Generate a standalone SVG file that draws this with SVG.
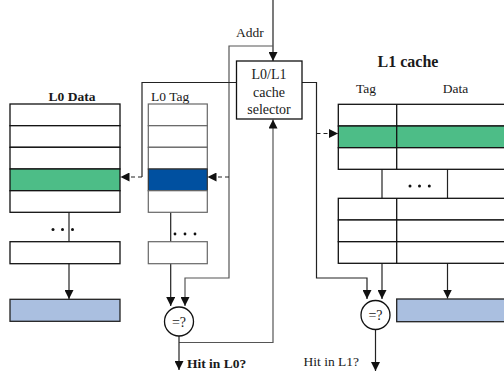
<svg xmlns="http://www.w3.org/2000/svg" width="504" height="375" viewBox="0 0 504 375" font-family="'Liberation Serif', 'DejaVu Serif', serif">
<defs>
<style>
text{font-family:'Liberation Serif','DejaVu Serif',serif;fill:#1a1a1a}
.b{font-weight:bold}
.box{fill:#fff;stroke:#111;stroke-width:1.3}
.gbox{fill:#fff;stroke:#666;stroke-width:1.2}
.ln{fill:none;stroke:#222;stroke-width:1.2}
.gl{fill:none;stroke:#555;stroke-width:1.2}
.ds{fill:none;stroke:#222;stroke-width:1.2;stroke-dasharray:4 3}
.green{fill:#4dbd87;stroke:#111;stroke-width:1.3}
.blue{fill:#0050a0;stroke:#333;stroke-width:1.2}
.lb{fill:#aabfe0;stroke:#222;stroke-width:1.3}
.dot{fill:#111}
</style>
<marker id="ah" viewBox="0 0 10 10" refX="10" refY="5" markerWidth="9" markerHeight="9" markerUnits="userSpaceOnUse" orient="auto">
<path d="M0,0 L10,5 L0,10 Z" fill="#111"/>
</marker>
</defs>

<g id="connectors">
<path class="ln" d="M273,0 V61" marker-end="url(#ah)"/>
<path class="gl" d="M273,46 H229 V278 H185 V306" marker-end="url(#ah)"/>
<path class="ds" d="M229,177 H207.5" marker-end="url(#ah)"/>
<path class="ln" d="M236.5,82.5 H142 V177"/>
<path class="ds" d="M142,177 H120.5" marker-end="url(#ah)"/>
<path class="ln" d="M302,82.5 H316.5 V278 H367 V299" marker-end="url(#ah)"/>
<path class="ds" d="M316.5,133.5 H338" marker-end="url(#ah)"/>
<path class="gl" d="M179,342.5 H273 V119.5" marker-end="url(#ah)"/>
<path class="ln" d="M69,191 V299" marker-end="url(#ah)"/>
<path class="ln" d="M170.7,191 V306" marker-end="url(#ah)"/>
<path class="ln" d="M179,336 V370" marker-end="url(#ah)"/>
<path class="ln" d="M382,148 V299" marker-end="url(#ah)"/>
<path class="ln" d="M447.5,148 V298.5" marker-end="url(#ah)"/>
<path class="ln" d="M375.5,329.5 V371" marker-end="url(#ah)"/>
</g>

<g id="addr-label">
<text x="236" y="37" font-size="13.5">Addr</text>
</g>

<g id="selector">
<rect class="box" x="236.5" y="61" width="65.5" height="58"/>
<text x="269" y="79" font-size="14" text-anchor="middle">L0/L1</text>
<text x="269" y="97" font-size="14" text-anchor="middle">cache</text>
<text x="269" y="114" font-size="14" text-anchor="middle">selector</text>
</g>

<g id="l0-data">
<text class="b" x="72" y="101" font-size="13.5" text-anchor="middle">L0 Data</text>
<rect class="box" x="10" y="104" width="110" height="21.7"/>
<rect class="box" x="10" y="125.7" width="110" height="21.6"/>
<rect class="box" x="10" y="147.3" width="110" height="21.7"/>
<rect class="green" x="10" y="169" width="110" height="21.7"/>
<rect class="box" x="10" y="190.7" width="110" height="21.6"/>
<circle class="dot" cx="53" cy="229.5" r="1.5"/>
<circle class="dot" cx="62.5" cy="229.5" r="1.5"/>
<circle class="dot" cx="72.5" cy="229.5" r="1.5"/>
<rect class="box" x="10" y="241.7" width="110" height="22"/>
</g>

<g id="l0-out">
<rect class="lb" x="10" y="299.3" width="110" height="22"/>
</g>

<g id="l0-tag">
<text x="151" y="101" font-size="13.5" fill="#333">L0  Tag</text>
<rect class="gbox" x="148.3" y="104" width="59" height="21.7"/>
<rect class="gbox" x="148.3" y="125.7" width="59" height="21.6"/>
<rect class="gbox" x="148.3" y="147.3" width="59" height="21.7"/>
<rect class="blue" x="148.3" y="169" width="59" height="21.7"/>
<rect class="gbox" x="148.3" y="190.7" width="59" height="21.6"/>
<circle class="dot" cx="175" cy="234" r="1.4"/>
<circle class="dot" cx="185" cy="234" r="1.4"/>
<circle class="dot" cx="195" cy="234" r="1.4"/>
<rect class="gbox" x="148.3" y="241.7" width="59" height="22"/>
</g>

<g id="l0-compare">
<circle cx="179" cy="321.5" r="14.5" fill="#fff" stroke="#111" stroke-width="1.3"/>
<text x="179" y="326.5" font-size="14" text-anchor="middle">=?</text>
<text class="b" x="187" y="368" font-size="13.5">Hit in L0?</text>
</g>

<g id="l1-cache">
<text class="b" x="408" y="67" font-size="16" text-anchor="middle">L1 cache</text>
<text x="366" y="93" font-size="13.5" text-anchor="middle">Tag</text>
<text x="455.5" y="93" font-size="13.5" text-anchor="middle">Data</text>
<rect class="box" x="338.3" y="104.3" width="180" height="21.7"/>
<rect class="green" x="338.3" y="126" width="180" height="21.7" stroke-width="2.2"/>
<rect class="box" x="338.3" y="147.7" width="180" height="21.6"/>
<line x1="396.7" y1="104.3" x2="396.7" y2="169.3" stroke="#111" stroke-width="1.3"/>
<circle class="dot" cx="410" cy="186" r="1.5"/>
<circle class="dot" cx="419.5" cy="186" r="1.5"/>
<circle class="dot" cx="429.3" cy="186" r="1.5"/>
<rect class="box" x="338.3" y="198.3" width="180" height="21.7"/>
<rect class="box" x="338.3" y="220" width="180" height="21.7"/>
<rect class="box" x="338.3" y="241.7" width="180" height="21.6"/>
<line x1="396.7" y1="198.3" x2="396.7" y2="263.3" stroke="#111" stroke-width="1.3"/>
</g>

<g id="l1-out">
<rect class="lb" x="396.7" y="299" width="120" height="22.7"/>
</g>

<g id="l1-compare">
<circle cx="375.5" cy="315" r="14.5" fill="#fff" stroke="#111" stroke-width="1.3"/>
<text x="375.5" y="320" font-size="14" text-anchor="middle">=?</text>
<text x="303.5" y="366" font-size="13.5">Hit in L1?</text>
</g>
</svg>
